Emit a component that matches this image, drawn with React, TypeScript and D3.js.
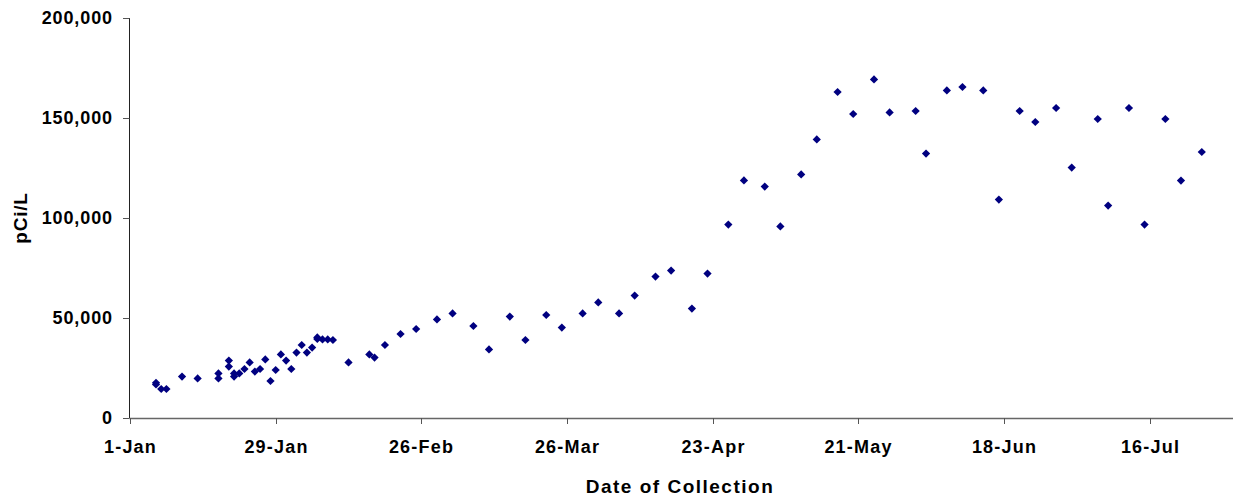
import * as d3 from 'd3';

const DATES = [
  '01-06', '01-06', '01-07', '01-08', '01-11', '01-14', '01-18', '01-18', '01-20', '01-20',
  '01-21', '01-21', '01-22', '01-23', '01-24', '01-25', '01-26', '01-27', '01-28', '01-29',
  '01-30', '01-31', '02-01', '02-02', '02-03', '02-04', '02-05', '02-06', '02-06', '02-07',
  '02-08', '02-09', '02-12', '02-16', '02-17', '02-19', '02-22', '02-25', '03-01', '03-04',
  '03-08', '03-11', '03-15', '03-18', '03-22', '03-25', '03-29', '04-01', '04-05', '04-08',
  '04-12', '04-15', '04-19', '04-22', '04-26', '04-29', '05-03', '05-06', '05-10', '05-13',
  '05-17', '05-20', '05-24', '05-27', '06-01', '06-03', '06-07', '06-10', '06-14', '06-17',
  '06-21', '06-24', '06-28', '07-01', '07-06', '07-08', '07-12', '07-15', '07-19', '07-22',
  '07-26',
];
const VALUES = [
  17600, 16800, 14500, 14500, 20700, 19800, 22300, 19800, 28700, 25700,
  20700, 22300, 22300, 24500, 27800, 23200, 24500, 29300, 18500, 24000,
  31800, 28700, 24500, 32700, 36500, 32700, 35200, 40300, 39500, 39300,
  39300, 39000, 27800, 31800, 30200, 36500, 42000, 44500, 49300, 52300,
  46000, 34300, 50700, 39000, 51500, 45200, 52300, 57800, 52300, 61200,
  70700, 73700, 54700, 72200, 96700, 118800, 115700, 95800, 121800, 139300,
  163000, 152000, 169300, 152800, 153500, 132200, 163800, 165500, 163800, 109200,
  153500, 148000, 155000, 125200, 149500, 106200, 155000, 96700, 149500, 118700,
  133000,
];
const X_TICKS = ['01-01', '01-29', '02-26', '03-26', '04-23', '05-21', '06-18', '07-16'];
const Y_TICKS = [0, 50000, 100000, 150000, 200000];
const X_DOMAIN = ['01-01', '08-01'];

const W = 1233, H = 501;
const M = { left: 130, right: 0, top: 18, bottom: 83 };
const FONT = '"Liberation Sans", Arial, sans-serif';
const NAVY = '#000080';

const parse = (s: string) => d3.utcParse('%Y-%m-%d')('2007-' + s)!;
const fmtTick = d3.utcFormat('%-d-%b');
const fmtNum = d3.format(',');

export default function App() {
  const x = d3.scaleUtc().domain(X_DOMAIN.map(parse)).range([M.left, W - M.right]);
  const y = d3.scaleLinear().domain([0, 200000]).range([H - M.bottom, M.top]);
  const diamond = d3.symbol(d3.symbolSquare, 34)()!;
  const y0 = y(0);

  return (
    <div style={{ position: 'absolute', left: 0, top: 0 }}>
      <svg width={W} height={H} style={{ display: 'block', background: '#fff' }} fontFamily={FONT}>
        {/* y axis */}
        <line x1={M.left - 0.5} x2={M.left - 0.5} y1={M.top} y2={y0} stroke="#222" />
        {Y_TICKS.map(t => (
          <g key={t}>
            <line x1={M.left - 7} x2={M.left - 0.5} y1={y(t) + 0.5} y2={y(t) + 0.5} stroke="#555" />
            <text x={113} y={y(t) + 6} textAnchor="end" fontSize={18} fontWeight="bold" letterSpacing={0.9} fill="#000">
              {fmtNum(t)}
            </text>
          </g>
        ))}

        {/* x axis */}
        <line x1={M.left - 0.5} x2={W} y1={y0 + 0.5} y2={y0 + 0.5} stroke="#666" strokeWidth={1.3} />
        {X_TICKS.map(d => {
          const px = Math.round(x(parse(d))) + 0.5;
          return (
            <g key={d}>
              <line x1={px} x2={px} y1={y0} y2={y0 + 6} stroke="#555" />
              <text x={px} y={453} textAnchor="middle" fontSize={18} fontWeight="bold" letterSpacing={1.2} fill="#000">
                {fmtTick(parse(d))}
              </text>
            </g>
          );
        })}

        {/* titles */}
        <text x={680} y={493} textAnchor="middle" fontSize={19} fontWeight="bold" letterSpacing={1.5} fill="#000">
          Date of Collection
        </text>
        <text transform={`translate(27,${(M.top + y0) / 2}) rotate(-90)`} textAnchor="middle" fontSize={19} fontWeight="bold" letterSpacing={0.8} fill="#000">
          pCi/L
        </text>

        {/* points */}
        {DATES.map((d, i) => (
          <path
            key={i}
            d={diamond}
            transform={`translate(${x(parse(d))},${y(VALUES[i])}) rotate(45)`}
            fill={NAVY}
          />
        ))}
      </svg>
    </div>
  );
}
